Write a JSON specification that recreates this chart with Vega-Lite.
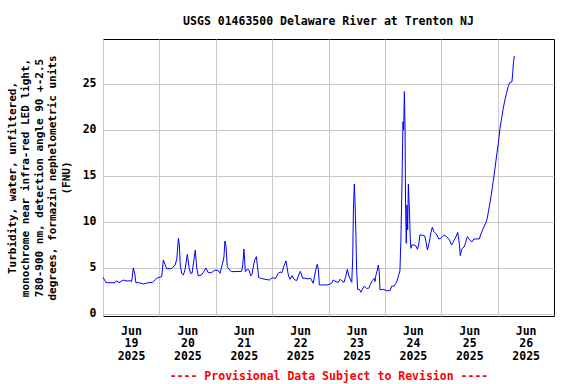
{
  "$schema": "https://vega.github.io/schema/vega-lite/v6.json",
  "width": 451,
  "height": 277,
  "autosize": {"type": "none"},
  "padding": {"left": 103, "top": 39, "right": 22, "bottom": 68},
  "background": "white",
  "config": {
    "view": {"stroke": "black", "strokeWidth": 1},
    "font": "DejaVu Sans Mono"
  },
  "title": {
    "text": "USGS 01463500 Delaware River at Trenton NJ",
    "font": "DejaVu Sans Mono",
    "fontSize": 11.5,
    "fontWeight": "bold",
    "color": "black",
    "anchor": "middle",
    "offset": 12
  },
  "data": {
    "values": [
      {"t": "2025-06-19T00:00", "v": 3.96},
      {"t": "2025-06-19T01:18", "v": 3.37},
      {"t": "2025-06-19T05:06", "v": 3.37},
      {"t": "2025-06-19T05:48", "v": 3.59},
      {"t": "2025-06-19T06:48", "v": 3.37},
      {"t": "2025-06-19T08:36", "v": 3.66},
      {"t": "2025-06-19T10:06", "v": 3.55},
      {"t": "2025-06-19T11:30", "v": 3.59},
      {"t": "2025-06-19T12:12", "v": 3.48},
      {"t": "2025-06-19T12:54", "v": 4.97},
      {"t": "2025-06-19T13:30", "v": 4.39},
      {"t": "2025-06-19T14:00", "v": 3.37},
      {"t": "2025-06-19T15:30", "v": 3.37},
      {"t": "2025-06-19T17:12", "v": 3.23},
      {"t": "2025-06-19T19:18", "v": 3.37},
      {"t": "2025-06-19T21:06", "v": 3.40},
      {"t": "2025-06-19T22:48", "v": 3.85},
      {"t": "2025-06-20T01:00", "v": 4.02},
      {"t": "2025-06-20T01:42", "v": 5.84},
      {"t": "2025-06-20T02:24", "v": 5.37},
      {"t": "2025-06-20T03:06", "v": 4.89},
      {"t": "2025-06-20T05:12", "v": 4.89},
      {"t": "2025-06-20T06:42", "v": 5.29},
      {"t": "2025-06-20T07:24", "v": 5.91},
      {"t": "2025-06-20T08:06", "v": 8.19},
      {"t": "2025-06-20T08:30", "v": 7.47},
      {"t": "2025-06-20T08:54", "v": 5.29},
      {"t": "2025-06-20T09:30", "v": 4.39},
      {"t": "2025-06-20T10:12", "v": 4.20},
      {"t": "2025-06-20T10:54", "v": 4.75},
      {"t": "2025-06-20T11:54", "v": 6.45},
      {"t": "2025-06-20T12:42", "v": 4.93},
      {"t": "2025-06-20T13:18", "v": 4.39},
      {"t": "2025-06-20T13:54", "v": 4.39},
      {"t": "2025-06-20T14:42", "v": 5.84},
      {"t": "2025-06-20T15:18", "v": 6.92},
      {"t": "2025-06-20T15:54", "v": 4.93},
      {"t": "2025-06-20T16:36", "v": 4.10},
      {"t": "2025-06-20T17:54", "v": 4.20},
      {"t": "2025-06-20T18:54", "v": 4.57},
      {"t": "2025-06-20T19:48", "v": 4.97},
      {"t": "2025-06-20T20:48", "v": 4.46},
      {"t": "2025-06-20T22:12", "v": 4.46},
      {"t": "2025-06-20T23:42", "v": 4.75},
      {"t": "2025-06-21T01:06", "v": 4.68},
      {"t": "2025-06-21T01:48", "v": 4.39},
      {"t": "2025-06-21T02:54", "v": 5.47},
      {"t": "2025-06-21T03:30", "v": 6.20},
      {"t": "2025-06-21T03:54", "v": 7.90},
      {"t": "2025-06-21T04:24", "v": 7.28},
      {"t": "2025-06-21T04:54", "v": 5.11},
      {"t": "2025-06-21T06:06", "v": 4.68},
      {"t": "2025-06-21T06:48", "v": 4.57},
      {"t": "2025-06-21T11:00", "v": 4.60},
      {"t": "2025-06-21T11:30", "v": 5.29},
      {"t": "2025-06-21T12:00", "v": 7.03},
      {"t": "2025-06-21T12:36", "v": 4.57},
      {"t": "2025-06-21T13:36", "v": 4.86},
      {"t": "2025-06-21T14:18", "v": 4.64},
      {"t": "2025-06-21T14:54", "v": 4.10},
      {"t": "2025-06-21T15:24", "v": 4.28},
      {"t": "2025-06-21T16:06", "v": 5.29},
      {"t": "2025-06-21T16:42", "v": 5.91},
      {"t": "2025-06-21T17:18", "v": 6.20},
      {"t": "2025-06-21T17:42", "v": 5.29},
      {"t": "2025-06-21T18:18", "v": 3.91},
      {"t": "2025-06-21T19:06", "v": 3.85},
      {"t": "2025-06-21T21:00", "v": 3.74},
      {"t": "2025-06-21T22:48", "v": 3.66},
      {"t": "2025-06-22T00:06", "v": 3.91},
      {"t": "2025-06-22T01:30", "v": 3.85},
      {"t": "2025-06-22T02:36", "v": 4.39},
      {"t": "2025-06-22T03:24", "v": 4.53},
      {"t": "2025-06-22T04:12", "v": 4.46},
      {"t": "2025-06-22T05:06", "v": 5.25},
      {"t": "2025-06-22T05:54", "v": 5.73},
      {"t": "2025-06-22T06:54", "v": 4.20},
      {"t": "2025-06-22T07:36", "v": 3.74},
      {"t": "2025-06-22T08:30", "v": 4.13},
      {"t": "2025-06-22T09:18", "v": 3.74},
      {"t": "2025-06-22T10:24", "v": 3.59},
      {"t": "2025-06-22T11:18", "v": 4.20},
      {"t": "2025-06-22T12:00", "v": 4.60},
      {"t": "2025-06-22T13:00", "v": 3.85},
      {"t": "2025-06-22T14:06", "v": 3.85},
      {"t": "2025-06-22T15:24", "v": 3.78},
      {"t": "2025-06-22T16:24", "v": 3.85},
      {"t": "2025-06-22T17:30", "v": 3.30},
      {"t": "2025-06-22T18:24", "v": 4.57},
      {"t": "2025-06-22T19:12", "v": 5.37},
      {"t": "2025-06-22T19:42", "v": 4.82},
      {"t": "2025-06-22T20:06", "v": 3.12},
      {"t": "2025-06-22T21:48", "v": 3.12},
      {"t": "2025-06-22T23:12", "v": 3.12},
      {"t": "2025-06-23T00:24", "v": 3.20},
      {"t": "2025-06-23T01:18", "v": 3.30},
      {"t": "2025-06-23T02:00", "v": 3.66},
      {"t": "2025-06-23T03:12", "v": 3.48},
      {"t": "2025-06-23T04:12", "v": 3.41},
      {"t": "2025-06-23T04:54", "v": 3.74},
      {"t": "2025-06-23T05:36", "v": 3.59},
      {"t": "2025-06-23T06:36", "v": 3.41},
      {"t": "2025-06-23T07:18", "v": 4.02},
      {"t": "2025-06-23T08:00", "v": 4.82},
      {"t": "2025-06-23T08:42", "v": 4.10},
      {"t": "2025-06-23T09:24", "v": 3.66},
      {"t": "2025-06-23T09:54", "v": 3.41},
      {"t": "2025-06-23T10:18", "v": 5.99},
      {"t": "2025-06-23T10:36", "v": 11.27},
      {"t": "2025-06-23T11:00", "v": 14.10},
      {"t": "2025-06-23T11:18", "v": 12.07},
      {"t": "2025-06-23T11:42", "v": 8.30},
      {"t": "2025-06-23T12:00", "v": 4.57},
      {"t": "2025-06-23T12:24", "v": 2.65},
      {"t": "2025-06-23T13:06", "v": 2.65},
      {"t": "2025-06-23T13:48", "v": 2.33},
      {"t": "2025-06-23T14:24", "v": 2.65},
      {"t": "2025-06-23T15:12", "v": 3.00},
      {"t": "2025-06-23T16:12", "v": 2.76},
      {"t": "2025-06-23T17:06", "v": 2.76},
      {"t": "2025-06-23T17:54", "v": 3.19},
      {"t": "2025-06-23T18:36", "v": 3.59},
      {"t": "2025-06-23T19:24", "v": 3.84},
      {"t": "2025-06-23T19:48", "v": 3.48},
      {"t": "2025-06-23T20:12", "v": 4.20},
      {"t": "2025-06-23T20:48", "v": 4.75},
      {"t": "2025-06-23T21:12", "v": 5.29},
      {"t": "2025-06-23T21:36", "v": 4.57},
      {"t": "2025-06-23T21:54", "v": 2.59},
      {"t": "2025-06-23T23:18", "v": 2.65},
      {"t": "2025-06-24T00:48", "v": 2.50},
      {"t": "2025-06-24T02:12", "v": 2.50},
      {"t": "2025-06-24T02:54", "v": 3.00},
      {"t": "2025-06-24T03:54", "v": 3.00},
      {"t": "2025-06-24T04:42", "v": 3.30},
      {"t": "2025-06-24T05:18", "v": 3.66},
      {"t": "2025-06-24T05:54", "v": 4.20},
      {"t": "2025-06-24T06:24", "v": 4.64},
      {"t": "2025-06-24T06:48", "v": 7.83},
      {"t": "2025-06-24T07:18", "v": 14.35},
      {"t": "2025-06-24T07:42", "v": 20.87},
      {"t": "2025-06-24T08:00", "v": 19.96},
      {"t": "2025-06-24T08:18", "v": 24.13},
      {"t": "2025-06-24T08:36", "v": 19.96},
      {"t": "2025-06-24T08:48", "v": 12.36},
      {"t": "2025-06-24T09:06", "v": 7.65},
      {"t": "2025-06-24T09:24", "v": 11.80},
      {"t": "2025-06-24T09:42", "v": 9.10},
      {"t": "2025-06-24T10:00", "v": 14.10},
      {"t": "2025-06-24T10:12", "v": 12.70},
      {"t": "2025-06-24T10:30", "v": 10.90},
      {"t": "2025-06-24T10:48", "v": 8.19},
      {"t": "2025-06-24T11:06", "v": 7.11},
      {"t": "2025-06-24T11:30", "v": 7.47},
      {"t": "2025-06-24T12:24", "v": 7.47},
      {"t": "2025-06-24T13:12", "v": 7.36},
      {"t": "2025-06-24T13:54", "v": 7.00},
      {"t": "2025-06-24T14:30", "v": 7.65},
      {"t": "2025-06-24T14:54", "v": 8.55},
      {"t": "2025-06-24T15:54", "v": 8.55},
      {"t": "2025-06-24T17:00", "v": 8.44},
      {"t": "2025-06-24T17:30", "v": 7.83},
      {"t": "2025-06-24T18:06", "v": 6.92},
      {"t": "2025-06-24T18:48", "v": 7.65},
      {"t": "2025-06-24T19:36", "v": 8.80},
      {"t": "2025-06-24T20:12", "v": 9.39},
      {"t": "2025-06-24T20:54", "v": 8.91},
      {"t": "2025-06-24T21:36", "v": 8.73},
      {"t": "2025-06-24T22:12", "v": 8.55},
      {"t": "2025-06-24T22:54", "v": 8.12},
      {"t": "2025-06-24T23:48", "v": 8.19},
      {"t": "2025-06-25T00:30", "v": 8.37},
      {"t": "2025-06-25T01:12", "v": 8.55},
      {"t": "2025-06-25T02:18", "v": 8.37},
      {"t": "2025-06-25T03:30", "v": 8.00},
      {"t": "2025-06-25T04:24", "v": 7.47},
      {"t": "2025-06-25T05:12", "v": 7.83},
      {"t": "2025-06-25T05:54", "v": 8.19},
      {"t": "2025-06-25T06:36", "v": 8.55},
      {"t": "2025-06-25T07:00", "v": 8.84},
      {"t": "2025-06-25T07:42", "v": 7.65},
      {"t": "2025-06-25T08:06", "v": 6.31},
      {"t": "2025-06-25T08:36", "v": 6.92},
      {"t": "2025-06-25T09:00", "v": 7.11},
      {"t": "2025-06-25T09:42", "v": 7.25},
      {"t": "2025-06-25T10:24", "v": 7.72},
      {"t": "2025-06-25T11:06", "v": 8.37},
      {"t": "2025-06-25T11:48", "v": 8.12},
      {"t": "2025-06-25T13:00", "v": 7.79},
      {"t": "2025-06-25T13:54", "v": 8.12},
      {"t": "2025-06-25T15:06", "v": 8.12},
      {"t": "2025-06-25T16:12", "v": 8.12},
      {"t": "2025-06-25T16:54", "v": 8.66},
      {"t": "2025-06-25T17:54", "v": 9.28},
      {"t": "2025-06-25T18:54", "v": 9.83},
      {"t": "2025-06-25T19:36", "v": 10.37},
      {"t": "2025-06-25T20:00", "v": 10.98},
      {"t": "2025-06-25T20:42", "v": 12.00},
      {"t": "2025-06-25T21:24", "v": 13.08},
      {"t": "2025-06-25T22:06", "v": 14.35},
      {"t": "2025-06-25T22:48", "v": 15.62},
      {"t": "2025-06-25T23:36", "v": 17.25},
      {"t": "2025-06-26T00:18", "v": 18.50},
      {"t": "2025-06-26T01:00", "v": 20.15},
      {"t": "2025-06-26T01:42", "v": 21.24},
      {"t": "2025-06-26T02:24", "v": 22.33},
      {"t": "2025-06-26T03:06", "v": 23.23},
      {"t": "2025-06-26T03:48", "v": 23.96},
      {"t": "2025-06-26T04:30", "v": 24.68},
      {"t": "2025-06-26T05:06", "v": 25.10},
      {"t": "2025-06-26T06:06", "v": 25.20},
      {"t": "2025-06-26T06:24", "v": 26.10},
      {"t": "2025-06-26T06:42", "v": 27.20},
      {"t": "2025-06-26T07:06", "v": 28.00}
    ]
  },
  "mark": {"type": "line", "color": "#0000ff", "strokeWidth": 1, "interpolate": "linear"},
  "encoding": {
    "x": {
      "field": "t",
      "type": "temporal",
      "scale": {
        "domain": [
          {"year": 2025, "month": 6, "date": 19},
          {"year": 2025, "month": 6, "date": 27}
        ],
        "nice": false
      },
      "axis": {
        "values": [
          {"year": 2025, "month": 6, "date": 19},
          {"year": 2025, "month": 6, "date": 20},
          {"year": 2025, "month": 6, "date": 21},
          {"year": 2025, "month": 6, "date": 22},
          {"year": 2025, "month": 6, "date": 23},
          {"year": 2025, "month": 6, "date": 24},
          {"year": 2025, "month": 6, "date": 25},
          {"year": 2025, "month": 6, "date": 26}
        ],
        "labelExpr": "[timeFormat(datum.value, '%b'), timeFormat(datum.value, '%d'), timeFormat(datum.value, '%Y')]",
        "labelOffset": 28,
        "labelFont": "DejaVu Sans Mono",
        "labelFontSize": 11.5,
        "labelFontWeight": "bold",
        "labelColor": "black",
        "labelLineHeight": 12.7,
        "labelPadding": 9,
        "labelBaseline": "top",
        "labelFlush": false,
        "labelOverlap": false,
        "ticks": false,
        "domain": false,
        "grid": true,
        "gridColor": "#c8c8c8",
        "gridWidth": 1,
        "gridOpacity": 1,
        "title": "---- Provisional Data Subject to Revision ----",
        "titleFont": "DejaVu Sans Mono",
        "titleFontSize": 11.5,
        "titleFontWeight": "bold",
        "titleColor": "#ff0000",
        "titlePadding": 9
      }
    },
    "y": {
      "field": "v",
      "type": "quantitative",
      "scale": {"domain": [-0.25, 29.85], "nice": false, "zero": false},
      "axis": {
        "values": [0, 5, 10, 15, 20, 25],
        "labelFont": "DejaVu Sans Mono",
        "labelFontSize": 11.5,
        "labelFontWeight": "bold",
        "labelColor": "black",
        "labelPadding": 7,
        "ticks": false,
        "domain": false,
        "grid": true,
        "gridColor": "#c8c8c8",
        "gridWidth": 1,
        "gridOpacity": 1,
        "title": [
          "Turbidity, water, unfiltered,",
          "monochrome near infra-red LED light,",
          "780-900 nm, detection angle 90 +-2.5",
          "degrees, formazin nephelometric units",
          "(FNU)"
        ],
        "titleFont": "DejaVu Sans Mono",
        "titleFontSize": 11,
        "titleFontWeight": "bold",
        "titleColor": "black",
        "titleLineHeight": 13.5,
        "titlePadding": 11
      }
    }
  }
}
